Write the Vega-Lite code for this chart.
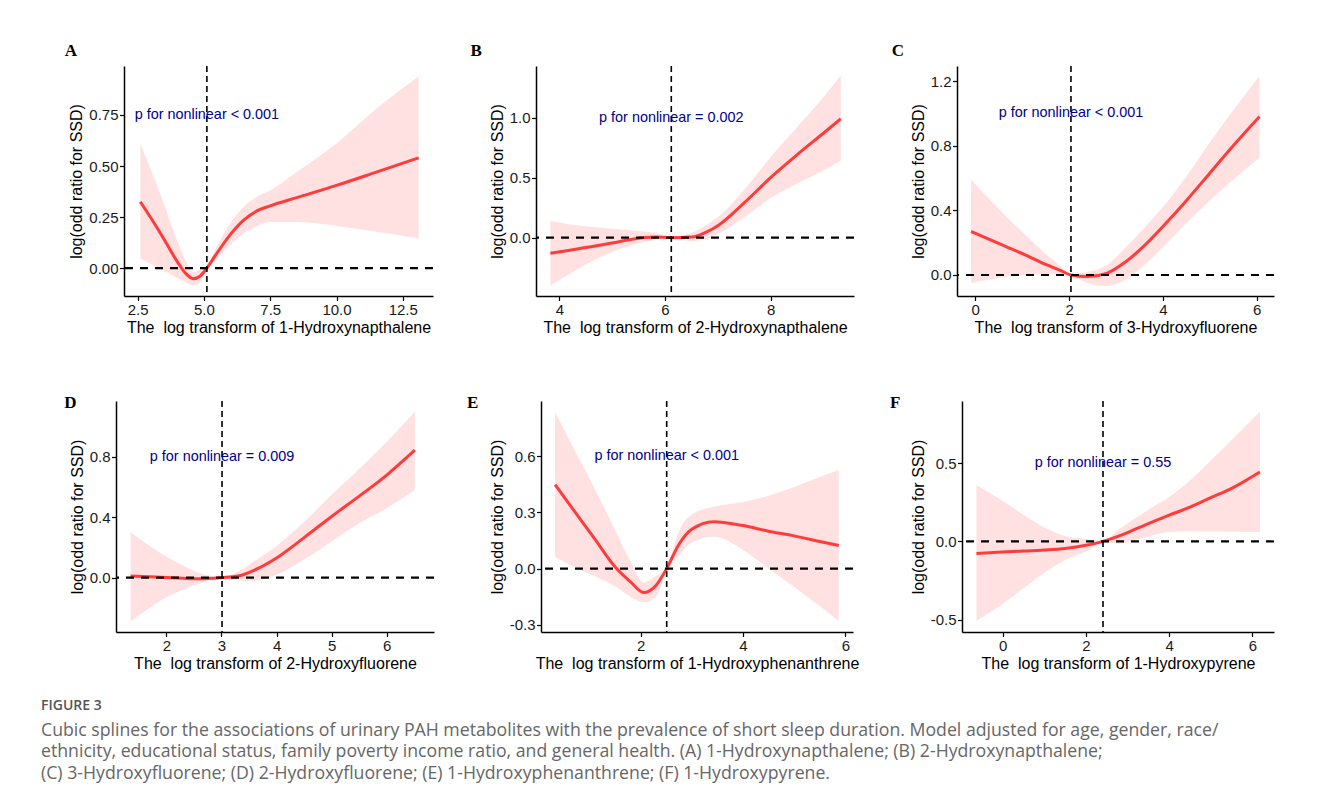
{
  "$schema": "https://vega.github.io/schema/vega-lite/v6.json",
  "padding": {"left": 28, "top": 42, "right": 40, "bottom": 10},
  "background": "white",
  "datasets": {
    "A": [
      {"x": 2.6, "fit": 0.325, "lo": 0.045, "hi": 0.61},
      {"x": 3.0, "fit": 0.245, "lo": 0.02, "hi": 0.48},
      {"x": 3.5, "fit": 0.14, "lo": -0.015, "hi": 0.31},
      {"x": 4.0, "fit": 0.03, "lo": -0.05, "hi": 0.13},
      {"x": 4.3, "fit": -0.025, "lo": -0.07, "hi": 0.04},
      {"x": 4.6, "fit": -0.052, "lo": -0.085, "hi": -0.02},
      {"x": 4.85, "fit": -0.04, "lo": -0.07, "hi": -0.01},
      {"x": 5.11, "fit": 0.0, "lo": -0.01, "hi": 0.01},
      {"x": 5.5, "fit": 0.075, "lo": 0.045, "hi": 0.11},
      {"x": 6.0, "fit": 0.165, "lo": 0.115, "hi": 0.22},
      {"x": 6.5, "fit": 0.235, "lo": 0.17, "hi": 0.3},
      {"x": 7.0, "fit": 0.28, "lo": 0.205, "hi": 0.35},
      {"x": 7.5, "fit": 0.305, "lo": 0.225, "hi": 0.38},
      {"x": 8.5, "fit": 0.345, "lo": 0.225, "hi": 0.47},
      {"x": 10.0, "fit": 0.405, "lo": 0.206, "hi": 0.61},
      {"x": 11.5, "fit": 0.47, "lo": 0.178, "hi": 0.78},
      {"x": 13.1, "fit": 0.54, "lo": 0.145, "hi": 0.94}
    ],
    "B": [
      {"x": 3.83, "fit": -0.13, "lo": -0.4, "hi": 0.14},
      {"x": 4.2, "fit": -0.105, "lo": -0.3, "hi": 0.11},
      {"x": 4.6, "fit": -0.075, "lo": -0.2, "hi": 0.09},
      {"x": 5.0, "fit": -0.045, "lo": -0.12, "hi": 0.075},
      {"x": 5.4, "fit": -0.012, "lo": -0.06, "hi": 0.06},
      {"x": 5.8, "fit": 0.005, "lo": -0.02, "hi": 0.04},
      {"x": 6.12, "fit": 0.0, "lo": -0.005, "hi": 0.005},
      {"x": 6.5, "fit": 0.005, "lo": -0.03, "hi": 0.04},
      {"x": 6.8, "fit": 0.05, "lo": -0.01, "hi": 0.11},
      {"x": 7.0, "fit": 0.1, "lo": 0.03, "hi": 0.17},
      {"x": 7.5, "fit": 0.29, "lo": 0.17, "hi": 0.4},
      {"x": 8.0, "fit": 0.5, "lo": 0.33, "hi": 0.67},
      {"x": 8.5, "fit": 0.69, "lo": 0.45, "hi": 0.92},
      {"x": 9.0, "fit": 0.87, "lo": 0.56, "hi": 1.17},
      {"x": 9.33, "fit": 0.99, "lo": 0.64, "hi": 1.35}
    ],
    "C": [
      {"x": -0.09, "fit": 0.27, "lo": -0.05, "hi": 0.59},
      {"x": 0.3, "fit": 0.22, "lo": -0.03, "hi": 0.47},
      {"x": 0.7, "fit": 0.17, "lo": -0.01, "hi": 0.35},
      {"x": 1.1, "fit": 0.12, "lo": 0.0, "hi": 0.24},
      {"x": 1.5, "fit": 0.065, "lo": 0.005, "hi": 0.13},
      {"x": 1.8, "fit": 0.03, "lo": 0.005, "hi": 0.06},
      {"x": 2.04, "fit": 0.0, "lo": -0.005, "hi": 0.005},
      {"x": 2.4, "fit": -0.01, "lo": -0.05, "hi": 0.02},
      {"x": 2.8, "fit": 0.01, "lo": -0.068, "hi": 0.06},
      {"x": 3.2, "fit": 0.08, "lo": -0.03, "hi": 0.17},
      {"x": 3.6, "fit": 0.18, "lo": 0.06, "hi": 0.29},
      {"x": 4.0, "fit": 0.3, "lo": 0.17, "hi": 0.42},
      {"x": 4.5, "fit": 0.46, "lo": 0.32, "hi": 0.61},
      {"x": 5.0, "fit": 0.63, "lo": 0.46, "hi": 0.82},
      {"x": 5.5, "fit": 0.8, "lo": 0.59, "hi": 1.02},
      {"x": 6.06, "fit": 0.98, "lo": 0.725, "hi": 1.23}
    ],
    "D": [
      {"x": 1.35, "fit": 0.01, "lo": -0.29, "hi": 0.3},
      {"x": 1.7, "fit": 0.005, "lo": -0.2, "hi": 0.21},
      {"x": 2.0, "fit": 0.0, "lo": -0.13, "hi": 0.14},
      {"x": 2.3, "fit": -0.005, "lo": -0.08, "hi": 0.08},
      {"x": 2.6, "fit": -0.008, "lo": -0.04, "hi": 0.03},
      {"x": 3.01, "fit": 0.0, "lo": -0.005, "hi": 0.005},
      {"x": 3.3, "fit": 0.01, "lo": -0.02, "hi": 0.04},
      {"x": 3.6, "fit": 0.05, "lo": -0.02, "hi": 0.11},
      {"x": 4.0, "fit": 0.13, "lo": 0.02, "hi": 0.21},
      {"x": 4.5, "fit": 0.265, "lo": 0.12, "hi": 0.37},
      {"x": 5.0, "fit": 0.405, "lo": 0.24, "hi": 0.55},
      {"x": 5.5, "fit": 0.54, "lo": 0.36, "hi": 0.72},
      {"x": 6.0, "fit": 0.68, "lo": 0.46, "hi": 0.9},
      {"x": 6.51, "fit": 0.845, "lo": 0.58, "hi": 1.1}
    ],
    "E": [
      {"x": 0.33, "fit": 0.449, "lo": 0.062, "hi": 0.837},
      {"x": 0.7, "fit": 0.31, "lo": 0.01, "hi": 0.64},
      {"x": 1.1, "fit": 0.16, "lo": -0.04, "hi": 0.43},
      {"x": 1.53, "fit": 0.0, "lo": -0.1, "hi": 0.19},
      {"x": 1.8, "fit": -0.07, "lo": -0.15, "hi": 0.04},
      {"x": 2.06, "fit": -0.128, "lo": -0.179, "hi": -0.075},
      {"x": 2.3, "fit": -0.09, "lo": -0.15, "hi": -0.04},
      {"x": 2.51, "fit": 0.0, "lo": -0.01, "hi": 0.01},
      {"x": 2.75, "fit": 0.13, "lo": 0.07, "hi": 0.2},
      {"x": 3.0, "fit": 0.21, "lo": 0.14, "hi": 0.29},
      {"x": 3.43, "fit": 0.251, "lo": 0.17, "hi": 0.33},
      {"x": 4.0, "fit": 0.23, "lo": 0.1, "hi": 0.356},
      {"x": 4.5, "fit": 0.2, "lo": 0.0, "hi": 0.39},
      {"x": 5.0, "fit": 0.175, "lo": -0.098, "hi": 0.436},
      {"x": 5.5, "fit": 0.145, "lo": -0.2, "hi": 0.49},
      {"x": 5.87, "fit": 0.123, "lo": -0.28, "hi": 0.526}
    ],
    "F": [
      {"x": -0.63, "fit": -0.077, "lo": -0.508, "hi": 0.36},
      {"x": 0.0, "fit": -0.068, "lo": -0.4, "hi": 0.26},
      {"x": 0.5, "fit": -0.062, "lo": -0.3, "hi": 0.17},
      {"x": 1.0, "fit": -0.055, "lo": -0.2, "hi": 0.09},
      {"x": 1.5, "fit": -0.045, "lo": -0.12, "hi": 0.035},
      {"x": 2.0, "fit": -0.025, "lo": -0.065, "hi": 0.015},
      {"x": 2.41, "fit": 0.0, "lo": -0.005, "hi": 0.005},
      {"x": 2.8, "fit": 0.035, "lo": -0.015, "hi": 0.08},
      {"x": 3.2, "fit": 0.08, "lo": 0.01, "hi": 0.15},
      {"x": 3.6, "fit": 0.125, "lo": 0.04, "hi": 0.22},
      {"x": 4.0, "fit": 0.168, "lo": 0.06, "hi": 0.285},
      {"x": 4.5, "fit": 0.22, "lo": 0.065, "hi": 0.39},
      {"x": 5.0, "fit": 0.28, "lo": 0.063, "hi": 0.52},
      {"x": 5.5, "fit": 0.34, "lo": 0.062, "hi": 0.65},
      {"x": 6.18, "fit": 0.445, "lo": 0.06, "hi": 0.83}
    ],
    "notes": [
      {"panel": "A", "knot": 5.11, "ty": 0.75, "label": "p for nonlinear < 0.001"},
      {"panel": "B", "knot": 6.12, "ty": 1.0, "label": "p for nonlinear = 0.002"},
      {"panel": "C", "knot": 2.04, "ty": 1.0, "label": "p for nonlinear < 0.001"},
      {"panel": "D", "knot": 3.01, "ty": 0.8, "label": "p for nonlinear = 0.009"},
      {"panel": "E", "knot": 2.51, "ty": 0.6, "label": "p for nonlinear < 0.001"},
      {"panel": "F", "knot": 2.41, "ty": 0.5, "label": "p for nonlinear = 0.55"}
    ]
  },
  "title": {
    "text": "FIGURE 3",
    "subtitle": [
      "Cubic splines for the associations of urinary PAH metabolites with the prevalence of short sleep duration. Model adjusted for age, gender, race/",
      "ethnicity, educational status, family poverty income ratio, and general health. (A) 1-Hydroxynapthalene; (B) 2-Hydroxynapthalene;",
      "(C) 3-Hydroxyfluorene; (D) 2-Hydroxyfluorene; (E) 1-Hydroxyphenanthrene; (F) 1-Hydroxypyrene."
    ],
    "orient": "bottom",
    "anchor": "start",
    "frame": "bounds",
    "offset": 28,
    "dx": 13,
    "font": "Open Sans",
    "fontSize": 14,
    "fontWeight": 600,
    "color": "#555555",
    "subtitleFont": "Open Sans",
    "subtitleFontSize": 17.7,
    "subtitleColor": "#666666",
    "subtitleLineHeight": 21.7,
    "subtitlePadding": 8.5
  },
  "spacing": 59,
  "vconcat": [
    {
      "spacing": 35,
      "hconcat": [
        {"width": 1, "height": 230, "data": {"values": []}, "mark": {"type": "point", "opacity": 0}},
        {
          "width": 309, "height": 230,
          "title": {"text": "A", "anchor": "start", "frame": "bounds", "dx": -4, "offset": -8, "baseline": "alphabetic", "font": "Liberation Serif", "fontSize": 17, "fontWeight": "bold", "color": "#000000"},
          "layer": [
            {"data": {"name": "A"}, "mark": {"type": "area", "color": "#ffe1e1", "interpolate": "monotone"},
             "encoding": {
               "x": {"field": "x", "type": "quantitative", "scale": {"domain": [1.984, 13.64], "nice": false, "zero": false}, "axis": {"values": [2.5, 5, 7.5, 10, 12.5], "format": ".1f", "title": "The\u00a0 log transform of 1-Hydroxynapthalene"}},
               "y": {"field": "lo", "type": "quantitative", "scale": {"domain": [-0.137, 0.99], "nice": false, "zero": false}, "axis": {"values": [0, 0.25, 0.5, 0.75], "format": ".2f", "title": "log(odd ratio for SSD)"}},
               "y2": {"field": "hi"}}},
            {"data": {"name": "A"}, "mark": {"type": "line", "color": "#ff3b3b", "strokeWidth": 3, "interpolate": "monotone"},
             "encoding": {"x": {"field": "x", "type": "quantitative"}, "y": {"field": "fit", "type": "quantitative"}}},
            {"data": {"name": "notes"}, "transform": [{"filter": "datum.panel === 'A'"}], "mark": {"type": "rule", "color": "#000000", "strokeWidth": 2.2, "strokeDash": [8, 7]}, "encoding": {"y": {"datum": 0}}},
            {"data": {"name": "notes"}, "transform": [{"filter": "datum.panel === 'A'"}], "mark": {"type": "rule", "color": "#000000", "strokeWidth": 1.6, "strokeDash": [6, 4]}, "encoding": {"x": {"field": "knot", "type": "quantitative"}}},
            {"data": {"name": "notes"}, "transform": [{"filter": "datum.panel === 'A'"}], "mark": {"type": "text", "color": "#00008b", "font": "Liberation Sans", "fontSize": 14.4, "align": "center", "baseline": "middle"}, "encoding": {"x": {"field": "knot", "type": "quantitative"}, "y": {"field": "ty", "type": "quantitative"}, "text": {"field": "label"}}}
          ]
        },
        {
          "width": 318, "height": 230,
          "title": {"text": "B", "anchor": "start", "frame": "bounds", "dx": -18.7, "offset": -8, "baseline": "alphabetic", "font": "Liberation Serif", "fontSize": 17, "fontWeight": "bold", "color": "#000000"},
          "layer": [
            {"data": {"name": "B"}, "mark": {"type": "area", "color": "#ffe1e1", "interpolate": "monotone"},
             "encoding": {
               "x": {"field": "x", "type": "quantitative", "scale": {"domain": [3.558, 9.58], "nice": false, "zero": false}, "axis": {"values": [4, 6, 8], "format": "d", "title": "The\u00a0 log transform of 2-Hydroxynapthalene"}},
               "y": {"field": "lo", "type": "quantitative", "scale": {"domain": [-0.486, 1.43], "nice": false, "zero": false}, "axis": {"values": [0, 0.5, 1], "format": ".1f", "title": "log(odd ratio for SSD)"}},
               "y2": {"field": "hi"}}},
            {"data": {"name": "B"}, "mark": {"type": "line", "color": "#ff3b3b", "strokeWidth": 3, "interpolate": "monotone"},
             "encoding": {"x": {"field": "x", "type": "quantitative"}, "y": {"field": "fit", "type": "quantitative"}}},
            {"data": {"name": "notes"}, "transform": [{"filter": "datum.panel === 'B'"}], "mark": {"type": "rule", "color": "#000000", "strokeWidth": 2.2, "strokeDash": [8, 7]}, "encoding": {"y": {"datum": 0}}},
            {"data": {"name": "notes"}, "transform": [{"filter": "datum.panel === 'B'"}], "mark": {"type": "rule", "color": "#000000", "strokeWidth": 1.6, "strokeDash": [6, 4]}, "encoding": {"x": {"field": "knot", "type": "quantitative"}}},
            {"data": {"name": "notes"}, "transform": [{"filter": "datum.panel === 'B'"}], "mark": {"type": "text", "color": "#00008b", "font": "Liberation Sans", "fontSize": 14.4, "align": "center", "baseline": "middle"}, "encoding": {"x": {"field": "knot", "type": "quantitative"}, "y": {"field": "ty", "type": "quantitative"}, "text": {"field": "label"}}}
          ]
        },
        {
          "width": 317, "height": 230,
          "title": {"text": "C", "anchor": "start", "frame": "bounds", "dx": -18.5, "offset": -8, "baseline": "alphabetic", "font": "Liberation Serif", "fontSize": 17, "fontWeight": "bold", "color": "#000000"},
          "layer": [
            {"data": {"name": "C"}, "mark": {"type": "area", "color": "#ffe1e1", "interpolate": "monotone"},
             "encoding": {
               "x": {"field": "x", "type": "quantitative", "scale": {"domain": [-0.39, 6.37], "nice": false, "zero": false}, "axis": {"values": [0, 2, 4, 6], "format": "d", "title": "The\u00a0 log transform of 3-Hydroxyfluorene"}},
               "y": {"field": "lo", "type": "quantitative", "scale": {"domain": [-0.13, 1.293], "nice": false, "zero": false}, "axis": {"values": [0, 0.4, 0.8, 1.2], "format": ".1f", "title": "log(odd ratio for SSD)"}},
               "y2": {"field": "hi"}}},
            {"data": {"name": "C"}, "mark": {"type": "line", "color": "#ff3b3b", "strokeWidth": 3, "interpolate": "monotone"},
             "encoding": {"x": {"field": "x", "type": "quantitative"}, "y": {"field": "fit", "type": "quantitative"}}},
            {"data": {"name": "notes"}, "transform": [{"filter": "datum.panel === 'C'"}], "mark": {"type": "rule", "color": "#000000", "strokeWidth": 2.2, "strokeDash": [8, 7]}, "encoding": {"y": {"datum": 0}}},
            {"data": {"name": "notes"}, "transform": [{"filter": "datum.panel === 'C'"}], "mark": {"type": "rule", "color": "#000000", "strokeWidth": 1.6, "strokeDash": [6, 4]}, "encoding": {"x": {"field": "knot", "type": "quantitative"}}},
            {"data": {"name": "notes"}, "transform": [{"filter": "datum.panel === 'C'"}], "mark": {"type": "text", "color": "#00008b", "font": "Liberation Sans", "fontSize": 14.4, "align": "center", "baseline": "middle"}, "encoding": {"x": {"field": "knot", "type": "quantitative"}, "y": {"field": "ty", "type": "quantitative"}, "text": {"field": "label"}}}
          ]
        }
      ]
    },
    {
      "spacing": 30,
      "hconcat": [
        {"width": 6, "height": 231, "data": {"values": []}, "mark": {"type": "point", "opacity": 0}},
        {
          "width": 318, "height": 231,
          "title": {"text": "D", "anchor": "start", "frame": "bounds", "dx": -5, "offset": -25, "baseline": "alphabetic", "font": "Liberation Serif", "fontSize": 17, "fontWeight": "bold", "color": "#000000"},
          "layer": [
            {"data": {"name": "D"}, "mark": {"type": "area", "color": "#ffe1e1", "interpolate": "monotone"},
             "encoding": {
               "x": {"field": "x", "type": "quantitative", "scale": {"domain": [1.085, 6.858], "nice": false, "zero": false}, "axis": {"values": [2, 3, 4, 5, 6], "format": "d", "title": "The\u00a0 log transform of 2-Hydroxyfluorene"}},
               "y": {"field": "lo", "type": "quantitative", "scale": {"domain": [-0.361, 1.171], "nice": false, "zero": false}, "axis": {"values": [0, 0.4, 0.8], "format": ".1f", "title": "log(odd ratio for SSD)"}},
               "y2": {"field": "hi"}}},
            {"data": {"name": "D"}, "mark": {"type": "line", "color": "#ff3b3b", "strokeWidth": 3, "interpolate": "monotone"},
             "encoding": {"x": {"field": "x", "type": "quantitative"}, "y": {"field": "fit", "type": "quantitative"}}},
            {"data": {"name": "notes"}, "transform": [{"filter": "datum.panel === 'D'"}], "mark": {"type": "rule", "color": "#000000", "strokeWidth": 2.2, "strokeDash": [8, 7]}, "encoding": {"y": {"datum": 0}}},
            {"data": {"name": "notes"}, "transform": [{"filter": "datum.panel === 'D'"}], "mark": {"type": "rule", "color": "#000000", "strokeWidth": 1.6, "strokeDash": [6, 4]}, "encoding": {"x": {"field": "knot", "type": "quantitative"}}},
            {"data": {"name": "notes"}, "transform": [{"filter": "datum.panel === 'D'"}], "mark": {"type": "text", "color": "#00008b", "font": "Liberation Sans", "fontSize": 14.4, "align": "center", "baseline": "middle"}, "encoding": {"x": {"field": "knot", "type": "quantitative"}, "y": {"field": "ty", "type": "quantitative"}, "text": {"field": "label"}}}
          ]
        },
        {
          "width": 312, "height": 231,
          "title": {"text": "E", "anchor": "start", "frame": "bounds", "dx": -22.2, "offset": -25, "baseline": "alphabetic", "font": "Liberation Serif", "fontSize": 17, "fontWeight": "bold", "color": "#000000"},
          "layer": [
            {"data": {"name": "E"}, "mark": {"type": "area", "color": "#ffe1e1", "interpolate": "monotone"},
             "encoding": {
               "x": {"field": "x", "type": "quantitative", "scale": {"domain": [0.055, 6.149], "nice": false, "zero": false}, "axis": {"values": [2, 4, 6], "format": "d", "title": "The\u00a0 log transform of 1-Hydroxyphenanthrene"}},
               "y": {"field": "lo", "type": "quantitative", "scale": {"domain": [-0.339, 0.896], "nice": false, "zero": false}, "axis": {"values": [-0.3, 0, 0.3, 0.6], "format": ".1f", "labelExpr": "replace(datum.label, '\u2212', '-')", "title": "log(odd ratio for SSD)"}},
               "y2": {"field": "hi"}}},
            {"data": {"name": "E"}, "mark": {"type": "line", "color": "#ff3b3b", "strokeWidth": 3, "interpolate": "monotone"},
             "encoding": {"x": {"field": "x", "type": "quantitative"}, "y": {"field": "fit", "type": "quantitative"}}},
            {"data": {"name": "notes"}, "transform": [{"filter": "datum.panel === 'E'"}], "mark": {"type": "rule", "color": "#000000", "strokeWidth": 2.2, "strokeDash": [8, 7]}, "encoding": {"y": {"datum": 0}}},
            {"data": {"name": "notes"}, "transform": [{"filter": "datum.panel === 'E'"}], "mark": {"type": "rule", "color": "#000000", "strokeWidth": 1.6, "strokeDash": [6, 4]}, "encoding": {"x": {"field": "knot", "type": "quantitative"}}},
            {"data": {"name": "notes"}, "transform": [{"filter": "datum.panel === 'E'"}], "mark": {"type": "text", "color": "#00008b", "font": "Liberation Sans", "fontSize": 14.4, "align": "center", "baseline": "middle"}, "encoding": {"x": {"field": "knot", "type": "quantitative"}, "y": {"field": "ty", "type": "quantitative"}, "text": {"field": "label"}}}
          ]
        },
        {
          "width": 312, "height": 231,
          "title": {"text": "F", "anchor": "start", "frame": "bounds", "dx": -20.2, "offset": -25, "baseline": "alphabetic", "font": "Liberation Serif", "fontSize": 17, "fontWeight": "bold", "color": "#000000"},
          "layer": [
            {"data": {"name": "F"}, "mark": {"type": "area", "color": "#ffe1e1", "interpolate": "monotone"},
             "encoding": {
               "x": {"field": "x", "type": "quantitative", "scale": {"domain": [-0.977, 6.518], "nice": false, "zero": false}, "axis": {"values": [0, 2, 4, 6], "format": "d", "title": "The\u00a0 log transform of 1-Hydroxypyrene"}},
               "y": {"field": "lo", "type": "quantitative", "scale": {"domain": [-0.58, 0.899], "nice": false, "zero": false}, "axis": {"values": [-0.5, 0, 0.5], "format": ".1f", "labelExpr": "replace(datum.label, '\u2212', '-')", "title": "log(odd ratio for SSD)"}},
               "y2": {"field": "hi"}}},
            {"data": {"name": "F"}, "mark": {"type": "line", "color": "#ff3b3b", "strokeWidth": 3, "interpolate": "monotone"},
             "encoding": {"x": {"field": "x", "type": "quantitative"}, "y": {"field": "fit", "type": "quantitative"}}},
            {"data": {"name": "notes"}, "transform": [{"filter": "datum.panel === 'F'"}], "mark": {"type": "rule", "color": "#000000", "strokeWidth": 2.2, "strokeDash": [8, 7]}, "encoding": {"y": {"datum": 0}}},
            {"data": {"name": "notes"}, "transform": [{"filter": "datum.panel === 'F'"}], "mark": {"type": "rule", "color": "#000000", "strokeWidth": 1.6, "strokeDash": [6, 4]}, "encoding": {"x": {"field": "knot", "type": "quantitative"}}},
            {"data": {"name": "notes"}, "transform": [{"filter": "datum.panel === 'F'"}], "mark": {"type": "text", "color": "#00008b", "font": "Liberation Sans", "fontSize": 14.4, "align": "center", "baseline": "middle"}, "encoding": {"x": {"field": "knot", "type": "quantitative"}, "y": {"field": "ty", "type": "quantitative"}, "text": {"field": "label"}}}
          ]
        }
      ]
    }
  ],
  "config": {
    "view": {"stroke": null},
    "axis": {
      "grid": false,
      "domainColor": "#000000",
      "domainWidth": 1.5,
      "tickColor": "#000000",
      "tickWidth": 1.2,
      "tickSize": 4.5,
      "labelFont": "Liberation Sans",
      "labelFontSize": 15,
      "labelColor": "#1a1a1a",
      "labelPadding": 1.5,
      "labelFlush": false,
      "labelOverlap": false,
      "titleFont": "Liberation Sans",
      "titleFontSize": 16,
      "titleFontWeight": "normal",
      "titleColor": "#000000"
    },
    "axisX": {"titlePadding": 2},
    "axisY": {"titlePadding": 4}
  }
}
